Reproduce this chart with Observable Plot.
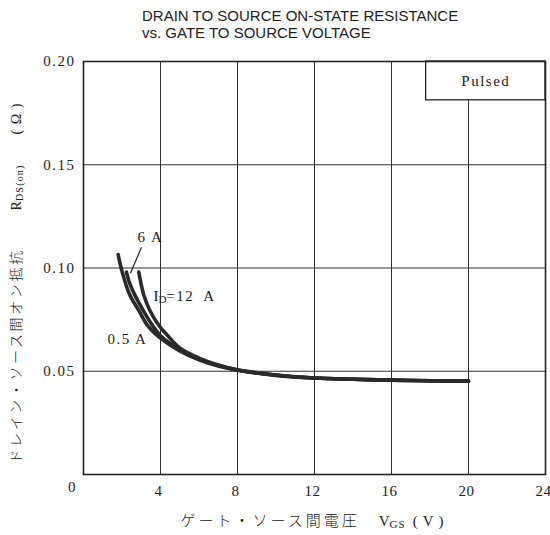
<!DOCTYPE html>
<html>
<head>
<meta charset="utf-8">
<script src="https://cdn.jsdelivr.net/npm/d3@7"></script>
<script src="https://cdn.jsdelivr.net/npm/@observablehq/plot@0.6"></script>
<style>
  body { margin: 0; background: #fff; }
  #wrap { position: relative; width: 550px; height: 535px; }
  #wrap svg { position: absolute; left: 0; top: 0; }
  #title {
    position: absolute; left: 142px; top: 7px;
    font-family: "Liberation Sans", Arial, sans-serif;
    font-size: 15px; line-height: 17px; color: #222;
  }
</style>
</head>
<body>
<div id="wrap"></div>
<script>
// Drain-source on-state resistance vs gate-source voltage, one curve per drain current
const currents = ["0.5 A", "6 A", "12 A"];

const vgs05 = [1.8, 2.0, 2.4, 2.9, 3.3, 4.0, 5.0, 6.0, 7.0, 8.0, 10, 12, 14, 16, 18, 20];
const rds05 = [0.1065, 0.0985, 0.087, 0.079, 0.0725, 0.066, 0.0598, 0.0555, 0.0525, 0.0505, 0.048, 0.0467, 0.0461, 0.0457, 0.0454, 0.0452];

const vgs6 = [2.23, 2.4, 2.66, 3.13, 3.56, 4.0, 5.0, 6.0, 7.0, 8.0, 10, 12, 14, 16, 18, 20];
const rds6 = [0.098, 0.0925, 0.087, 0.079, 0.0725, 0.0672, 0.0605, 0.0559, 0.0528, 0.0506, 0.0481, 0.0467, 0.0461, 0.0457, 0.0454, 0.0452];

const vgs12 = [2.87, 3.0, 3.13, 3.48, 3.91, 4.3, 5.0, 6.0, 7.0, 8.0, 10, 12, 14, 16, 18, 20];
const rds12 = [0.098, 0.092, 0.0869, 0.0788, 0.0723, 0.068, 0.0613, 0.0564, 0.0531, 0.0507, 0.0482, 0.0467, 0.0461, 0.0457, 0.0454, 0.0452];

const xTicks = [0, 4, 8, 12, 16, 20, 24];
const yTicks = [0.05, 0.10, 0.15, 0.20];

const series = [[vgs05, rds05], [vgs6, rds6], [vgs12, rds12]];
const rows = series.flatMap(([vs, rs], i) =>
  vs.map((v, j) => ({ id: currents[i], vgs: v, rds: rs[j] })));

const ink = "#222";
const serif = "'Liberation Serif', 'DejaVu Serif', serif";
const cjk = "'Noto Sans CJK JP', sans-serif";

const chart = Plot.plot({
  width: 550,
  height: 535,
  marginTop: 61,
  marginLeft: 83,
  marginRight: 5,
  marginBottom: 61,
  x: { domain: [0, 24] },
  y: { domain: [0, 0.20] },
  style: { fontFamily: serif, fontSize: "15px", color: ink, background: "#fff" },
  marks: [
    Plot.gridX(xTicks.slice(1, -1), { stroke: "#333", strokeOpacity: 1, strokeWidth: 1 }),
    Plot.gridY(yTicks.slice(0, -1), { stroke: "#333", strokeOpacity: 1, strokeWidth: 1 }),
    // "Pulsed" legend box in the top-right corner
    Plot.rect([0], { x1: 17.8, x2: 24, y1: 0.1812, y2: 0.20, fill: "#fff", stroke: ink, strokeWidth: 1.3 }),
    Plot.text(["Pulsed"], { x: 20.9, y: 0.1906, text: d => d, fontSize: 15 }),
    Plot.frame({ stroke: ink, strokeWidth: 1.6 }),
    Plot.axisY({ ticks: yTicks, tickFormat: d3.format(".2f"), tickSize: 0, tickPadding: 8, label: null }),
    Plot.axisX({ ticks: xTicks.slice(1), tickFormat: d => d, tickSize: 0, tickPadding: 11, label: null, dx: -2 }),
    Plot.text([xTicks[0]], { x: d => d, frameAnchor: "bottom", text: d => String(d), dx: -11, dy: 17 }),
    Plot.line(rows, { x: "vgs", y: "rds", z: "id", stroke: "#2a2a2a", strokeWidth: 3.6, curve: "catmull-rom" }),
    // current labels
    Plot.link([0], { x1: 3.01, y1: 0.110, x2: 2.44, y2: 0.0975, stroke: ink, strokeWidth: 1.2 }),
    Plot.text([currents[1]], { x: 3.48, y: 0.1149, text: d => d, fontSize: 15 }),
    Plot.text(["@id"], { x: 3.63, y: 0.0864, text: d => d, textAnchor: "start", fontSize: 15 }),
    Plot.text([currents[0]], { x: 3.32, y: 0.0656, text: d => d, textAnchor: "end", fontSize: 15 }),
    // axis titles
    Plot.text(["@ylabel"], { frameAnchor: "bottom-left", textAnchor: "start", rotate: -90, dx: -63, dy: -11, text: d => d }),
    Plot.text(["@xlabel"], { frameAnchor: "bottom", dy: 51, text: d => d })
  ]
});

const svg = d3.select(chart);
svg.selectAll("text").attr("letter-spacing", "1.5");
svg.selectAll('g[aria-label="x-axis tick label"] text').attr("letter-spacing", "0.5");
const byText = s => svg.selectAll("text").filter(function () { return this.textContent === s; });

// rich text: each part is {s, sub, font, dx, ls}
function compose(sel, size, parts) {
  sel.text(null).attr("font-size", size).attr("letter-spacing", null);
  for (const p of parts) {
    const t = sel.append("tspan").text(p.s);
    if (p.sub) t.attr("font-size", Math.round(size * 0.72)).attr("baseline-shift", "-22%");
    if (p.font) t.attr("font-family", p.font).attr("font-weight", p.font === cjk ? 300 : null);
    if (p.dx) t.attr("dx", p.dx);
    t.attr("letter-spacing", p.ls ?? 0);
  }
}

compose(byText("@ylabel"), 14, [
  { s: "ドレイン・ソース間オン抵抗", font: cjk, ls: 2.6 },
  { s: "R", dx: 38 },
  { s: "DS(on)", sub: true, ls: 1.2 },
  { s: "(Ω)", dx: 30, ls: 5.5 }
]);
compose(byText("@xlabel"), 15, [
  { s: "ゲート・ソース間電圧", font: cjk, ls: 3 },
  { s: "V", dx: 19 },
  { s: "GS", sub: true, ls: 1 },
  { s: "(V)", dx: 7, ls: 5 }
]);
compose(byText("@id"), 15, [
  { s: "I" },
  { s: "D", sub: true },
  { s: "=12", ls: 1.5 },
  { s: "A", dx: 9 }
]);

const wrap = document.getElementById("wrap");
wrap.append(chart);
const title = document.createElement("div");
title.id = "title";
title.innerHTML = "DRAIN TO SOURCE ON-STATE RESISTANCE<br>vs. GATE TO SOURCE VOLTAGE";
wrap.append(title);
</script>
</body>
</html>
